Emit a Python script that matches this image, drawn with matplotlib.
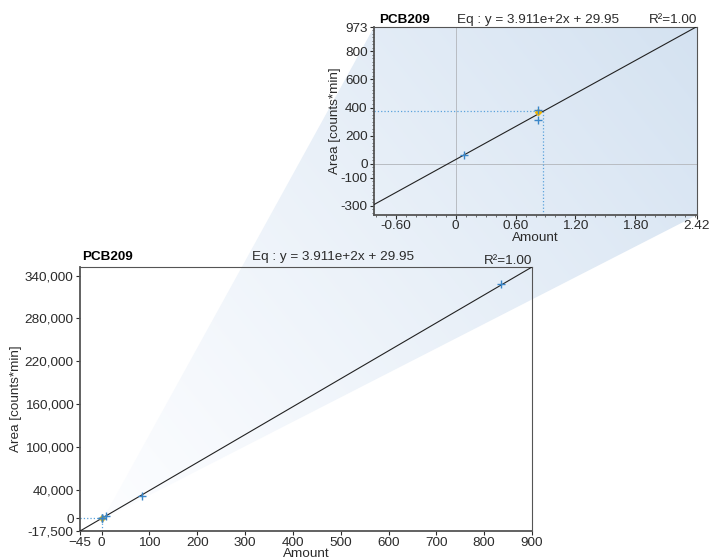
"""
Calibration curve for PCB209 with zoomed inset near the origin.
"""

import matplotlib.pyplot as plt
import numpy as np
from matplotlib.patches import Polygon
from matplotlib.ticker import FixedLocator, MultipleLocator, FuncFormatter

plt.rcParams['font.family'] = ['Liberation Sans', 'DejaVu Sans']
FS = 9.7
plt.rcParams['font.size'] = FS

# calibration data (amount vs area)
cal_amount = [0.083, 0.83, 0.83, 8.5, 84, 836]
cal_area = [64, 385, 308, 3200, 31000, 328000]
# unknown sample
sample_amount = [0.83]
sample_area = [365]
# quantified result (dotted guide lines)
result_amount = 0.88
result_area = 374
# fit
slope = 391.1
intercept = 29.95
compound = 'PCB209'
eq_text = 'Eq : y = 3.911e+2x + 29.95'
r2_text = 'R\u00b2=1.00'

main_xticks = [-45, 0, 100, 200, 300, 400, 500, 600, 700, 800, 900]
main_yticks = [-17500, 0, 40000, 100000, 160000, 220000, 280000, 340000]
inset_xticks = [-0.60, 0, 0.60, 1.20, 1.80, 2.42]
inset_yticks = [-300, -100, 0, 200, 400, 600, 800, 973]

TEXT = '#2b2b2b'
BLUE = '#3a86c8'
GUIDE = '#5aa2dc'
YELLOW = '#f2b600'

W, H = 709, 560
fig = plt.figure(figsize=(W / 100, H / 100), dpi=100)
fig.patch.set_facecolor('white')

# background layer in pixel coordinates for the zoom wedge
bg = fig.add_axes([0, 0, 1, 1], zorder=0)
bg.set_xlim(0, W)
bg.set_ylim(H, 0)
bg.axis('off')

xx, yy = np.meshgrid(np.arange(W), np.arange(H))
t = 0.6 * (xx - 103) / (697 - 103) + 0.4 * (517 - yy) / (517 - 27)
t = np.clip(t, 0, 1) ** 1.15
c0 = np.array([252, 253, 255]) / 255
c1 = np.array([212, 226, 241]) / 255
img = c0[None, None, :] * (1 - t[..., None]) + c1[None, None, :] * t[..., None]
im = bg.imshow(img, extent=(0, W, H, 0), aspect='auto', interpolation='bilinear')
wedge = Polygon([(103, 519), (374, 27), (697, 27), (697, 215)], closed=True,
                transform=bg.transData, facecolor='none', edgecolor='none')
bg.add_patch(wedge)
im.set_clip_path(wedge)


def style_axes(ax):
    for s in ax.spines.values():
        s.set_color('#555555')
        s.set_linewidth(0.8)
    ax.spines['left'].set_linewidth(1.3)
    ax.spines['bottom'].set_linewidth(1.3)
    ax.tick_params(colors=TEXT, labelsize=FS, length=3, width=0.8, pad=1.5)


def draw_curve(ax, xlim):
    xs = np.array(xlim)
    ax.plot(xs, slope * xs + intercept, color='#222222', lw=0.8, zorder=3)
    ax.plot(sample_amount, sample_area, 'D', color=YELLOW, ms=3, zorder=4)
    ax.plot(cal_amount, cal_area, '+', color=BLUE, ms=6, mew=1.0, zorder=5)
    ax.plot([xlim[0], result_amount], [result_area, result_area], ':',
            color=GUIDE, lw=0.9, zorder=2)
    ax.plot([result_amount, result_amount], [ax.get_ylim()[0], result_area], ':',
            color=GUIDE, lw=0.9, zorder=2)


# main axes
ax = fig.add_axes([80 / W, 1 - 531 / H, 452 / W, 264 / H], zorder=2)
ax.set_facecolor('none')
ax.set_xlim(-45, 900)
ax.set_ylim(-17500, slope * 900 + intercept)
draw_curve(ax, (-45, 900))
ax.xaxis.set_major_locator(FixedLocator(main_xticks))
ax.yaxis.set_major_locator(FixedLocator(main_yticks))
ax.yaxis.set_major_formatter(FuncFormatter(lambda v, p: f'{int(v):,}'))
style_axes(ax)
ax.set_xlabel('Amount', color=TEXT, fontsize=FS, labelpad=-1)
ax.set_ylabel('Area [counts*min]', color=TEXT, fontsize=FS, labelpad=2)
ax.text(0.005, 1.015, compound, transform=ax.transAxes, fontweight='bold',
        color='black', fontsize=FS, ha='left', va='bottom')
ax.text(0.38, 1.015, eq_text, transform=ax.transAxes, color=TEXT,
        fontsize=FS, ha='left', va='bottom')
ax.text(1.0, 1.0, r2_text, transform=ax.transAxes, color=TEXT,
        fontsize=FS, ha='right', va='bottom')

# inset axes
ins = fig.add_axes([374 / W, 1 - 215 / H, 323 / W, 188 / H], zorder=2)
ins.set_facecolor('none')
ins.set_xlim(-0.82, 2.42)
ins.set_ylim(-365, 973)
ins.axhline(0, color='#b8bcc2', lw=0.7, zorder=1)
ins.axvline(0, color='#b8bcc2', lw=0.7, zorder=1)
draw_curve(ins, (-0.82, 2.42))
ins.xaxis.set_major_locator(FixedLocator(inset_xticks))
ins.yaxis.set_major_locator(FixedLocator(inset_yticks))
ins.xaxis.set_minor_locator(MultipleLocator(0.1))
ins.yaxis.set_minor_locator(MultipleLocator(25))
ins.xaxis.set_major_formatter(FuncFormatter(
    lambda v, p: '0' if abs(v) < 1e-9 else f'{v:.2f}'))
ins.yaxis.set_major_formatter(FuncFormatter(lambda v, p: f'{int(round(v))}'))
style_axes(ins)
ins.tick_params(axis='x', pad=0.5)
ins.tick_params(which='minor', length=1.5, width=0.6, colors='#555555')
ins.set_xlabel('Amount', color=TEXT, fontsize=FS, labelpad=0)
ins.set_ylabel('Area [counts*min]', color=TEXT, fontsize=FS, labelpad=0)
ins.text(0.015, 1.005, compound, transform=ins.transAxes, fontweight='bold',
         color='black', fontsize=FS, ha='left', va='bottom')
ins.text(0.256, 1.005, eq_text, transform=ins.transAxes, color=TEXT,
         fontsize=FS, ha='left', va='bottom')
ins.text(1.0, 1.005, r2_text, transform=ins.transAxes, color=TEXT,
         fontsize=FS, ha='right', va='bottom')

plt.savefig('out.png', dpi=100, facecolor='white')
print("[OK] Generated out.png")
plt.close()
